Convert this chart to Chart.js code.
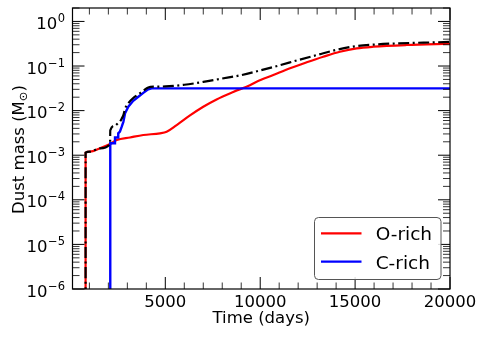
<!DOCTYPE html>
<html><head><meta charset="utf-8">
<script src="https://cdn.jsdelivr.net/npm/chart.js@4.4.1/dist/chart.umd.min.js"></script>
<style>html,body{margin:0;padding:0;background:#fff;}canvas{display:block;}</style>
</head><body>
<canvas id="c" width="485" height="338"></canvas>
<script>
// ---- data ----
const oTime = [799, 800, 1030, 1560, 2090, 2440, 3140, 3840, 4720, 5070, 5600, 6300, 7000, 7700, 8580, 9460, 9810, 10690, 11570, 12450, 13320, 14200, 15080, 15960, 17710, 20000];
const oMass = [1e-8, 1.14e-3, 1.2e-3, 1.43e-3, 1.78e-3, 2.19e-3, 2.5e-3, 2.84e-3, 3.1e-3, 3.36e-3, 4.75e-3, 7.8e-3, 1.22e-2, 1.78e-2, 2.62e-2, 3.72e-2, 4.45e-2, 6.28e-2, 8.9e-2, 0.121, 0.161, 0.209, 0.249, 0.271, 0.296, 0.316];

const cTime = [2099, 2100, 2349, 2350, 2519, 2520, 2610, 2700, 2790, 2880, 3050, 3310, 3580, 3840, 4100, 4280, 4400, 20000];
const cMass = [1e-8, 1.85e-3, 1.85e-3, 2.5e-3, 2.5e-3, 3.1e-3, 3.4e-3, 4.3e-3, 5.6e-3, 8.7e-3, 1.22e-2, 1.66e-2, 2.04e-2, 2.5e-2, 3.0e-2, 3.15e-2, 3.15e-2, 3.15e-2];

const tTime = [799, 800, 1030, 1560, 2090, 2100, 2350, 2520, 2610, 2700, 2790, 2880, 3050, 3310, 3580, 3840, 4100, 4400, 5000, 6000, 7000, 8000, 9000, 10000, 11000, 12000, 13000, 14000, 15000, 16000, 17000, 18000, 19000, 20000];
const tMass = [1e-8, 1.14e-3, 1.2e-3, 1.43e-3, 1.78e-3, 3.6e-3, 4.6e-3, 5.3e-3, 5.65e-3, 6.6e-3, 7.95e-3, 1.11e-2, 1.47e-2, 1.92e-2, 2.31e-2, 2.78e-2, 3.3e-2, 3.45e-2, 3.48e-2, 3.8e-2, 4.4e-2, 5.25e-2, 6.25e-2, 7.95e-2, 0.103, 0.136, 0.177, 0.23, 0.277, 0.303, 0.319, 0.33, 0.338, 0.347];

const seriesLabels = ['O-rich', 'C-rich', 'Total'];
const seriesColors = ['#ff0000', '#0000ff', '#000000'];
const xMajorTicks = [5000, 10000, 15000, 20000];
const xMinorStep = 1000;
const yDecades = [0, -1, -2, -3, -4, -5, -6];
const xMin = 110, xMax = 20000;
const yMin = 1e-6, yMax = 2;
const xTitle = 'Time (days)';
const yTitleMain = 'Dust mass (M';
const yTitleSub = '\u2299';
const yTitleEnd = ')';

const FONT = "'DejaVu Sans', 'Liberation Sans', sans-serif";
const pts = (xs, ys) => xs.map((x, i) => ({x: x, y: ys[i]}));

const axesPlugin = {
  id: 'axesPlugin',
  afterDatasetsDraw(chart) {
    const ctx = chart.ctx, a = chart.chartArea, xs = chart.scales.x, ys = chart.scales.y;
    const line = (x1, y1, x2, y2) => { ctx.beginPath(); ctx.moveTo(x1, y1); ctx.lineTo(x2, y2); ctx.stroke(); };
    ctx.save();
    ctx.strokeStyle = '#000';
    // x minor ticks
    ctx.lineWidth = 0.8;
    for (let v = xMinorStep; v < xMax; v += xMinorStep) {
      if (xMajorTicks.includes(v) || v < xMin) continue;
      const px = xs.getPixelForValue(v);
      line(px, a.bottom, px, a.bottom - 6.5);
      line(px, a.top, px, a.top + 6.5);
    }
    // y minor ticks
    for (let d = -7; d <= 0; d++) {
      for (let k = 2; k <= 9; k++) {
        const v = k * Math.pow(10, d);
        if (v < yMin || v > yMax) continue;
        const py = ys.getPixelForValue(v);
        line(a.left, py, a.left + 7, py);
        line(a.right, py, a.right - 7, py);
      }
    }
    // major ticks
    ctx.lineWidth = 1;
    xMajorTicks.forEach(v => {
      const px = xs.getPixelForValue(v);
      line(px, a.bottom, px, a.bottom - 12);
      line(px, a.top, px, a.top + 12);
    });
    yDecades.forEach(d => {
      const py = ys.getPixelForValue(Math.pow(10, d));
      line(a.left, py, a.left + 12, py);
      line(a.right, py, a.right - 12, py);
    });
    // frame
    ctx.lineWidth = 1.2;
    ctx.strokeRect(a.left, a.top, a.right - a.left, a.bottom - a.top);

    // tick labels
    ctx.fillStyle = '#000';
    ctx.font = '16.5px ' + FONT;
    ctx.textAlign = 'center';
    ctx.textBaseline = 'alphabetic';
    xMajorTicks.forEach(v => {
      ctx.fillText(String(v), xs.getPixelForValue(v), a.bottom + 18);
    });
    yDecades.forEach(d => {
      const py = ys.getPixelForValue(Math.pow(10, d));
      const exp = d < 0 ? '\u2212' + String(-d) : String(d);
      ctx.font = '11.5px ' + FONT;
      const ew = ctx.measureText(exp).width;
      const right = a.left - 7.5;
      ctx.textAlign = 'left';
      ctx.fillText(exp, right - ew, py + 0.5);
      ctx.font = '16.5px ' + FONT;
      ctx.textAlign = 'right';
      ctx.fillText('10', right - ew - 0.5, py + 7.5);
    });

    // axis titles
    ctx.font = '16.5px ' + FONT;
    ctx.textAlign = 'center';
    ctx.fillText(xTitle, (a.left + a.right) / 2, a.bottom + 34);

    ctx.save();
    ctx.translate(23.5, (a.top + a.bottom) / 2 + 1);
    ctx.rotate(-Math.PI / 2);
    ctx.textAlign = 'left';
    ctx.font = '16.5px ' + FONT;
    const w1 = ctx.measureText(yTitleMain).width;
    const w3 = ctx.measureText(yTitleEnd).width;
    ctx.font = '11.5px ' + FONT;
    const w2 = ctx.measureText(yTitleSub).width;
    let x0 = -(w1 + w2 + w3) / 2;
    ctx.font = '16.5px ' + FONT;
    ctx.fillText(yTitleMain, x0, 0);
    ctx.font = '11.5px ' + FONT;
    ctx.fillText(yTitleSub, x0 + w1, 3);
    ctx.font = '16.5px ' + FONT;
    ctx.fillText(yTitleEnd, x0 + w1 + w2, 0);
    ctx.restore();

    // legend
    const lx = a.right - 135.5, ly = a.bottom - 71.5, lw = 126.5, lh = 62;
    ctx.beginPath();
    ctx.roundRect(lx, ly, lw, lh, 4);
    ctx.fillStyle = 'rgba(255,255,255,0.85)';
    ctx.fill();
    ctx.lineWidth = 1;
    ctx.strokeStyle = '#555';
    ctx.stroke();
    const items = [0, 1];
    items.forEach((i, n) => {
      const ds = chart.data.datasets[i];
      const yy = a.bottom - 55.7 + n * 28.4;
      ctx.strokeStyle = ds.borderColor;
      ctx.lineWidth = 2.2;
      line(a.right - 129, yy, a.right - 88.5, yy);
      ctx.fillStyle = '#000';
      ctx.font = '18.5px ' + FONT;
      ctx.textAlign = 'left';
      ctx.fillText(ds.label, a.right - 74.3, yy + 6.8);
    });
    ctx.restore();
  }
};

new Chart(document.getElementById('c'), {
  type: 'line',
  data: {
    datasets: [
      {label: seriesLabels[0], data: pts(oTime, oMass), borderColor: seriesColors[0], borderWidth: 2.2,
       pointRadius: 0, cubicInterpolationMode: 'monotone', order: 2},
      {label: seriesLabels[1], data: pts(cTime, cMass), borderColor: seriesColors[1], borderWidth: 2.4,
       pointRadius: 0, tension: 0, order: 1},
      {label: seriesLabels[2], data: pts(tTime, tMass), borderColor: seriesColors[2], borderWidth: 2.2,
       pointRadius: 0, borderDash: [11, 3.5, 2, 3.5], cubicInterpolationMode: 'monotone', order: 0}
    ]
  },
  options: {
    responsive: false,
    animation: false,
    layout: {padding: {top: 8, right: 35, left: 0, bottom: 0}},
    plugins: {legend: {display: false}, tooltip: {enabled: false}},
    scales: {
      x: {type: 'linear', min: xMin, max: xMax, grid: {display: false}, border: {display: false},
          ticks: {display: false}, afterFit(s) { s.height = 49; }},
      y: {type: 'logarithmic', min: yMin, max: yMax, grid: {display: false}, border: {display: false},
          ticks: {display: false}, afterFit(s) { s.width = 72.5; }}
    }
  },
  plugins: [axesPlugin]
});
</script>
</body></html>
